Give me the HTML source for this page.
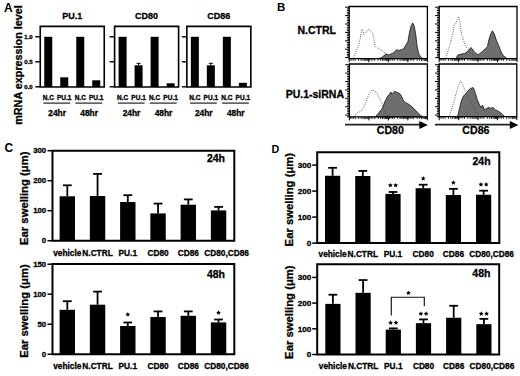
<!DOCTYPE html>
<html><head><meta charset="utf-8"><style>
html,body{margin:0;padding:0;background:#fff;}
svg{display:block;}
text{font-family:"Liberation Sans", sans-serif;fill:#000;stroke:#000;stroke-width:0.3px;}
</style></head><body>
<svg width="520" height="376" viewBox="0 0 520 376">
<rect width="520" height="376" fill="#fff"/>
<text x="4" y="12.1" font-size="12" text-anchor="start" font-weight="bold" style="stroke:none">A</text>
<text x="21.8" y="124.8" font-size="10.8" text-anchor="start" font-weight="bold" transform="rotate(-90 21.8 124.8)">mRNA expression level</text>
<rect x="44.25" y="36.8" width="8" height="50.2" fill="#000"/>
<rect x="60.25" y="77.3" width="8" height="9.7" fill="#000"/>
<rect x="76.25" y="36.8" width="8" height="50.2" fill="#000"/>
<rect x="92.25" y="80.3" width="8" height="6.7" fill="#000"/>
<path d="M40.25,26.4H104.25V87.0H40.25Z" fill="none" stroke="#000" stroke-width="1.6"/>
<line x1="35.25" y1="36.8" x2="40.25" y2="36.8" stroke="#000" stroke-width="1.4"/>
<text x="32.65" y="38.9" font-size="6.0" text-anchor="end" font-weight="bold">1.0</text>
<line x1="35.25" y1="61.8" x2="40.25" y2="61.8" stroke="#000" stroke-width="1.4"/>
<text x="32.65" y="63.9" font-size="6.0" text-anchor="end" font-weight="bold">0.5</text>
<line x1="35.25" y1="86.8" x2="40.25" y2="86.8" stroke="#000" stroke-width="1.4"/>
<text x="32.65" y="88.89999999999999" font-size="6.0" text-anchor="end" font-weight="bold">0.0</text>
<text x="72.25" y="18.8" font-size="9" text-anchor="middle" font-weight="bold">PU.1</text>
<text x="48.25" y="100" font-size="6.5" text-anchor="middle" font-weight="bold">N.C</text>
<text x="64.25" y="100" font-size="6.5" text-anchor="middle" font-weight="bold">PU.1</text>
<line x1="43.45" y1="103.1" x2="70.25" y2="103.1" stroke="#222" stroke-width="1.2"/>
<text x="57.15" y="116.0" font-size="8.4" text-anchor="middle" font-weight="bold">24hr</text>
<text x="80.25" y="100" font-size="6.5" text-anchor="middle" font-weight="bold">N.C</text>
<text x="96.25" y="100" font-size="6.5" text-anchor="middle" font-weight="bold">PU.1</text>
<line x1="75.45" y1="103.1" x2="102.25" y2="103.1" stroke="#222" stroke-width="1.2"/>
<text x="89.15" y="116.0" font-size="8.4" text-anchor="middle" font-weight="bold">48hr</text>
<rect x="118.6" y="36.8" width="8" height="50.2" fill="#000"/>
<rect x="134.6" y="65.3" width="8" height="21.7" fill="#000"/>
<line x1="138.6" y1="63.3" x2="138.6" y2="65.3" stroke="#000" stroke-width="1"/>
<line x1="136.6" y1="63.3" x2="140.6" y2="63.3" stroke="#000" stroke-width="1"/>
<rect x="150.6" y="36.8" width="8" height="50.2" fill="#000"/>
<rect x="166.6" y="83.3" width="8" height="3.7000000000000006" fill="#000"/>
<path d="M114.6,26.4H178.6V87.0H114.6Z" fill="none" stroke="#000" stroke-width="1.6"/>
<line x1="109.6" y1="36.8" x2="114.6" y2="36.8" stroke="#000" stroke-width="1.4"/>
<line x1="109.6" y1="61.8" x2="114.6" y2="61.8" stroke="#000" stroke-width="1.4"/>
<line x1="109.6" y1="86.8" x2="114.6" y2="86.8" stroke="#000" stroke-width="1.4"/>
<text x="146.6" y="18.8" font-size="9" text-anchor="middle" font-weight="bold">CD80</text>
<text x="122.6" y="100" font-size="6.5" text-anchor="middle" font-weight="bold">N.C</text>
<text x="138.6" y="100" font-size="6.5" text-anchor="middle" font-weight="bold">PU.1</text>
<line x1="117.8" y1="103.1" x2="144.6" y2="103.1" stroke="#222" stroke-width="1.2"/>
<text x="131.5" y="116.0" font-size="8.4" text-anchor="middle" font-weight="bold">24hr</text>
<text x="154.6" y="100" font-size="6.5" text-anchor="middle" font-weight="bold">N.C</text>
<text x="170.6" y="100" font-size="6.5" text-anchor="middle" font-weight="bold">PU.1</text>
<line x1="149.79999999999998" y1="103.1" x2="176.6" y2="103.1" stroke="#222" stroke-width="1.2"/>
<text x="163.5" y="116.0" font-size="8.4" text-anchor="middle" font-weight="bold">48hr</text>
<rect x="190.85" y="36.8" width="8" height="50.2" fill="#000"/>
<rect x="206.85" y="65.3" width="8" height="21.7" fill="#000"/>
<line x1="210.85" y1="63.3" x2="210.85" y2="65.3" stroke="#000" stroke-width="1"/>
<line x1="208.85" y1="63.3" x2="212.85" y2="63.3" stroke="#000" stroke-width="1"/>
<rect x="222.85" y="36.8" width="8" height="50.2" fill="#000"/>
<rect x="238.85" y="82.8" width="8" height="4.2" fill="#000"/>
<path d="M186.85,26.4H250.85V87.0H186.85Z" fill="none" stroke="#000" stroke-width="1.6"/>
<line x1="181.85" y1="36.8" x2="186.85" y2="36.8" stroke="#000" stroke-width="1.4"/>
<line x1="181.85" y1="61.8" x2="186.85" y2="61.8" stroke="#000" stroke-width="1.4"/>
<line x1="181.85" y1="86.8" x2="186.85" y2="86.8" stroke="#000" stroke-width="1.4"/>
<text x="218.85" y="18.8" font-size="9" text-anchor="middle" font-weight="bold">CD86</text>
<text x="194.85" y="100" font-size="6.5" text-anchor="middle" font-weight="bold">N.C</text>
<text x="210.85" y="100" font-size="6.5" text-anchor="middle" font-weight="bold">PU.1</text>
<line x1="190.04999999999998" y1="103.1" x2="216.85" y2="103.1" stroke="#222" stroke-width="1.2"/>
<text x="203.75" y="116.0" font-size="8.4" text-anchor="middle" font-weight="bold">24hr</text>
<text x="226.85" y="100" font-size="6.5" text-anchor="middle" font-weight="bold">N.C</text>
<text x="242.85" y="100" font-size="6.5" text-anchor="middle" font-weight="bold">PU.1</text>
<line x1="222.04999999999998" y1="103.1" x2="248.85" y2="103.1" stroke="#222" stroke-width="1.2"/>
<text x="235.75" y="116.0" font-size="8.4" text-anchor="middle" font-weight="bold">48hr</text>
<text x="277.0" y="11.0" font-size="11.5" text-anchor="start" font-weight="bold" style="stroke:none">B</text>
<text x="336" y="34.1" font-size="10.5" text-anchor="end" font-weight="bold">N.CTRL</text>
<text x="344" y="98.2" font-size="10.5" text-anchor="end" font-weight="bold">PU.1-siRNA</text>
<polygon points="378,58.6 381.3,57.7 383,56.5 386,53.8 388.3,55 390.6,54.2 393.6,52.7 396.7,49.7 398.9,50.5 401.2,49.7 403.5,48.9 405.8,45.2 408,41.4 409.5,32.3 411,26.2 412.6,22.9 414.1,25.5 415.6,33.8 417.1,45.9 418.6,53.5 420.9,57.3 423,58.6" fill="#6e6e6e" stroke="#111" stroke-width="0.8" stroke-linejoin="round"/>
<polyline points="353.3,58.3 356.4,50.5 358.6,45.5 360.2,38.3 361.7,30 362.4,29.2 364,34.5 365.5,33 367.7,30 369,28.8 370.8,31.5 373,33.8 373.8,39 375.3,46.5 377.6,48.2 380.6,49.7 383.6,52 387.4,55 392,57.5 395,58.3" fill="none" stroke="#4a4a4a" stroke-width="0.95" stroke-dasharray="0.9,1.35"/>
<path d="M349.2,6.5H427.4V58.6H349.2Z" fill="none" stroke="#000" stroke-width="1.3"/>
<path d="M349.20,58.6v3.6M368.75,58.6v3.6M388.30,58.6v3.6M407.85,58.6v3.6M427.40,58.6v3.6" stroke="#000" stroke-width="1.0" fill="none"/>
<path d="M355.09,58.6v2.3M358.53,58.6v2.3M360.97,58.6v2.3M362.86,58.6v2.3M364.41,58.6v2.3M365.72,58.6v2.3M366.86,58.6v2.3M367.86,58.6v2.3M350.18,58.6v2.0M351.74,58.6v2.0M353.31,58.6v2.0M374.64,58.6v2.3M378.08,58.6v2.3M380.52,58.6v2.3M382.41,58.6v2.3M383.96,58.6v2.3M385.27,58.6v2.3M386.41,58.6v2.3M387.41,58.6v2.3M369.73,58.6v2.0M371.29,58.6v2.0M372.86,58.6v2.0M394.19,58.6v2.3M397.63,58.6v2.3M400.07,58.6v2.3M401.96,58.6v2.3M403.51,58.6v2.3M404.82,58.6v2.3M405.96,58.6v2.3M406.96,58.6v2.3M389.28,58.6v2.0M390.84,58.6v2.0M392.41,58.6v2.0M413.74,58.6v2.3M417.18,58.6v2.3M419.62,58.6v2.3M421.51,58.6v2.3M423.06,58.6v2.3M424.37,58.6v2.3M425.51,58.6v2.3M426.51,58.6v2.3M408.83,58.6v2.0M410.39,58.6v2.0M411.96,58.6v2.0" stroke="#000" stroke-width="0.8" fill="none"/>
<path d="M349.2,7.20h-4.2M349.2,8.88h-2.3M349.2,10.56h-2.3M349.2,12.24h-2.3M349.2,13.92h-2.3M349.2,15.60h-4.2M349.2,17.28h-2.3M349.2,18.96h-2.3M349.2,20.64h-2.3M349.2,22.32h-2.3M349.2,24.00h-4.2M349.2,25.68h-2.3M349.2,27.36h-2.3M349.2,29.04h-2.3M349.2,30.72h-2.3M349.2,32.40h-4.2M349.2,34.08h-2.3M349.2,35.76h-2.3M349.2,37.44h-2.3M349.2,39.12h-2.3M349.2,40.80h-4.2M349.2,42.48h-2.3M349.2,44.16h-2.3M349.2,45.84h-2.3M349.2,47.52h-2.3M349.2,49.20h-4.2M349.2,50.88h-2.3M349.2,52.56h-2.3M349.2,54.24h-2.3M349.2,55.92h-2.3M349.2,57.60h-4.2" stroke="#000" stroke-width="1.0" fill="none"/>
<polygon points="455.7,58.6 458,55 460.3,54.3 464.8,53.5 468.6,50.5 470.9,47.4 473.8,51.2 476.1,53.5 478.3,55 480.6,52.7 482.9,51.2 485.2,48.9 487.4,46.7 488.9,39.8 490.5,34.5 492.4,30.8 494.2,33.8 496.5,40.6 498.8,45.9 501.1,52 503.3,55.8 506.4,58 507,58.6" fill="#6e6e6e" stroke="#111" stroke-width="0.8" stroke-linejoin="round"/>
<polyline points="445.9,58.3 448.1,50.5 450.4,43 452.7,34.6 454.2,24.7 455.7,24 457.2,19.4 458.5,16.4 459.5,20.2 460.3,24.7 461.5,33.8 463.3,39.9 465.6,46 468.6,50.5 472,54 476,57 480,58.3" fill="none" stroke="#4a4a4a" stroke-width="0.95" stroke-dasharray="0.9,1.35"/>
<path d="M439.2,6.5H517.0V58.6H439.2Z" fill="none" stroke="#000" stroke-width="1.3"/>
<path d="M439.20,58.6v3.6M458.65,58.6v3.6M478.10,58.6v3.6M497.55,58.6v3.6M517.00,58.6v3.6" stroke="#000" stroke-width="1.0" fill="none"/>
<path d="M445.06,58.6v2.3M448.48,58.6v2.3M450.91,58.6v2.3M452.79,58.6v2.3M454.34,58.6v2.3M455.64,58.6v2.3M456.77,58.6v2.3M457.76,58.6v2.3M440.17,58.6v2.0M441.73,58.6v2.0M443.28,58.6v2.0M464.51,58.6v2.3M467.93,58.6v2.3M470.36,58.6v2.3M472.24,58.6v2.3M473.79,58.6v2.3M475.09,58.6v2.3M476.22,58.6v2.3M477.21,58.6v2.3M459.62,58.6v2.0M461.18,58.6v2.0M462.73,58.6v2.0M483.96,58.6v2.3M487.38,58.6v2.3M489.81,58.6v2.3M491.69,58.6v2.3M493.24,58.6v2.3M494.54,58.6v2.3M495.67,58.6v2.3M496.66,58.6v2.3M479.07,58.6v2.0M480.63,58.6v2.0M482.18,58.6v2.0M503.41,58.6v2.3M506.83,58.6v2.3M509.26,58.6v2.3M511.14,58.6v2.3M512.69,58.6v2.3M513.99,58.6v2.3M515.12,58.6v2.3M516.11,58.6v2.3M498.52,58.6v2.0M500.08,58.6v2.0M501.63,58.6v2.0" stroke="#000" stroke-width="0.8" fill="none"/>
<path d="M439.2,7.20h-4.2M439.2,8.88h-2.3M439.2,10.56h-2.3M439.2,12.24h-2.3M439.2,13.92h-2.3M439.2,15.60h-4.2M439.2,17.28h-2.3M439.2,18.96h-2.3M439.2,20.64h-2.3M439.2,22.32h-2.3M439.2,24.00h-4.2M439.2,25.68h-2.3M439.2,27.36h-2.3M439.2,29.04h-2.3M439.2,30.72h-2.3M439.2,32.40h-4.2M439.2,34.08h-2.3M439.2,35.76h-2.3M439.2,37.44h-2.3M439.2,39.12h-2.3M439.2,40.80h-4.2M439.2,42.48h-2.3M439.2,44.16h-2.3M439.2,45.84h-2.3M439.2,47.52h-2.3M439.2,49.20h-4.2M439.2,50.88h-2.3M439.2,52.56h-2.3M439.2,54.24h-2.3M439.2,55.92h-2.3M439.2,57.60h-4.2" stroke="#000" stroke-width="1.0" fill="none"/>
<polygon points="375.3,116.8 379.3,112.3 382.4,108.3 384.8,101.9 387.2,97.1 389.6,93.9 390.9,92 392,94.7 393.6,92.4 394.7,91.2 396.8,92.4 398.8,93.2 400,94 401.6,96.3 403.2,100.3 405.6,102.7 408.8,104.3 412,106.7 414.3,109.1 417.5,112.3 420.7,115.5 423,116.8" fill="#6e6e6e" stroke="#111" stroke-width="0.8" stroke-linejoin="round"/>
<polyline points="354.6,116.3 357.8,112.3 361,111.5 363.4,108.3 365,104.3 367.3,97.9 369.7,93.1 372.1,89.9 374.5,90.7 376.9,93.1 379.3,97.9 381.7,102.7 383.3,108.3 385.7,113 388,116.3" fill="none" stroke="#4a4a4a" stroke-width="0.95" stroke-dasharray="0.9,1.35"/>
<path d="M349.4,64.0H427.4V116.8H349.4Z" fill="none" stroke="#000" stroke-width="1.3"/>
<path d="M349.40,116.8v3.6M368.90,116.8v3.6M388.40,116.8v3.6M407.90,116.8v3.6M427.40,116.8v3.6" stroke="#000" stroke-width="1.0" fill="none"/>
<path d="M355.27,116.8v2.3M358.70,116.8v2.3M361.14,116.8v2.3M363.03,116.8v2.3M364.57,116.8v2.3M365.88,116.8v2.3M367.01,116.8v2.3M368.01,116.8v2.3M350.38,116.8v2.0M351.94,116.8v2.0M353.50,116.8v2.0M374.77,116.8v2.3M378.20,116.8v2.3M380.64,116.8v2.3M382.53,116.8v2.3M384.07,116.8v2.3M385.38,116.8v2.3M386.51,116.8v2.3M387.51,116.8v2.3M369.88,116.8v2.0M371.44,116.8v2.0M373.00,116.8v2.0M394.27,116.8v2.3M397.70,116.8v2.3M400.14,116.8v2.3M402.03,116.8v2.3M403.57,116.8v2.3M404.88,116.8v2.3M406.01,116.8v2.3M407.01,116.8v2.3M389.38,116.8v2.0M390.93,116.8v2.0M392.50,116.8v2.0M413.77,116.8v2.3M417.20,116.8v2.3M419.64,116.8v2.3M421.53,116.8v2.3M423.07,116.8v2.3M424.38,116.8v2.3M425.51,116.8v2.3M426.51,116.8v2.3M408.88,116.8v2.0M410.43,116.8v2.0M412.00,116.8v2.0" stroke="#000" stroke-width="0.8" fill="none"/>
<path d="M349.4,64.70h-4.2M349.4,66.38h-2.3M349.4,68.06h-2.3M349.4,69.74h-2.3M349.4,71.42h-2.3M349.4,73.10h-4.2M349.4,74.78h-2.3M349.4,76.46h-2.3M349.4,78.14h-2.3M349.4,79.82h-2.3M349.4,81.50h-4.2M349.4,83.18h-2.3M349.4,84.86h-2.3M349.4,86.54h-2.3M349.4,88.22h-2.3M349.4,89.90h-4.2M349.4,91.58h-2.3M349.4,93.26h-2.3M349.4,94.94h-2.3M349.4,96.62h-2.3M349.4,98.30h-4.2M349.4,99.98h-2.3M349.4,101.66h-2.3M349.4,103.34h-2.3M349.4,105.02h-2.3M349.4,106.70h-4.2M349.4,108.38h-2.3M349.4,110.06h-2.3M349.4,111.74h-2.3M349.4,113.42h-2.3M349.4,115.10h-4.2M349.4,116.78h-2.3" stroke="#000" stroke-width="1.0" fill="none"/>
<polygon points="457.5,116.6 459.9,106.7 461.5,100.3 463.9,95.5 465.5,93.9 467.1,92.3 468.7,89.9 471.1,88.3 473,87.5 474,89.2 475.6,94 477.2,99.5 479.6,105.1 481.2,107.5 482.5,105.1 484.4,109.9 486.8,108.3 489.2,107.5 490.8,108.3 493.2,107.5 495.6,109.9 498.8,111.5 502,113.9 504.3,116.3 505,116.6" fill="#6e6e6e" stroke="#111" stroke-width="0.8" stroke-linejoin="round"/>
<polyline points="449.6,115.4 452,108.3 454.3,100.3 456.7,91.5 458.3,85.9 459.9,81.9 461,80.8 462.3,84.3 463.9,87.5 465.5,91.5 468,97 470.5,102 473,106 476,111 478,115 479,116.4" fill="none" stroke="#4a4a4a" stroke-width="0.95" stroke-dasharray="0.9,1.35"/>
<path d="M439.2,64.0H516.8V116.6H439.2Z" fill="none" stroke="#000" stroke-width="1.3"/>
<path d="M439.20,116.6v3.6M458.60,116.6v3.6M478.00,116.6v3.6M497.40,116.6v3.6M516.80,116.6v3.6" stroke="#000" stroke-width="1.0" fill="none"/>
<path d="M445.04,116.6v2.3M448.46,116.6v2.3M450.88,116.6v2.3M452.76,116.6v2.3M454.30,116.6v2.3M455.59,116.6v2.3M456.72,116.6v2.3M457.71,116.6v2.3M440.17,116.6v2.0M441.72,116.6v2.0M443.27,116.6v2.0M464.44,116.6v2.3M467.86,116.6v2.3M470.28,116.6v2.3M472.16,116.6v2.3M473.70,116.6v2.3M474.99,116.6v2.3M476.12,116.6v2.3M477.11,116.6v2.3M459.57,116.6v2.0M461.12,116.6v2.0M462.67,116.6v2.0M483.84,116.6v2.3M487.26,116.6v2.3M489.68,116.6v2.3M491.56,116.6v2.3M493.10,116.6v2.3M494.39,116.6v2.3M495.52,116.6v2.3M496.51,116.6v2.3M478.97,116.6v2.0M480.52,116.6v2.0M482.07,116.6v2.0M503.24,116.6v2.3M506.66,116.6v2.3M509.08,116.6v2.3M510.96,116.6v2.3M512.50,116.6v2.3M513.79,116.6v2.3M514.92,116.6v2.3M515.91,116.6v2.3M498.37,116.6v2.0M499.92,116.6v2.0M501.47,116.6v2.0" stroke="#000" stroke-width="0.8" fill="none"/>
<path d="M439.2,64.70h-4.2M439.2,66.38h-2.3M439.2,68.06h-2.3M439.2,69.74h-2.3M439.2,71.42h-2.3M439.2,73.10h-4.2M439.2,74.78h-2.3M439.2,76.46h-2.3M439.2,78.14h-2.3M439.2,79.82h-2.3M439.2,81.50h-4.2M439.2,83.18h-2.3M439.2,84.86h-2.3M439.2,86.54h-2.3M439.2,88.22h-2.3M439.2,89.90h-4.2M439.2,91.58h-2.3M439.2,93.26h-2.3M439.2,94.94h-2.3M439.2,96.62h-2.3M439.2,98.30h-4.2M439.2,99.98h-2.3M439.2,101.66h-2.3M439.2,103.34h-2.3M439.2,105.02h-2.3M439.2,106.70h-4.2M439.2,108.38h-2.3M439.2,110.06h-2.3M439.2,111.74h-2.3M439.2,113.42h-2.3M439.2,115.10h-4.2M439.2,116.78h-2.3" stroke="#000" stroke-width="1.0" fill="none"/>
<line x1="345" y1="124.6" x2="420.8" y2="124.6" stroke="#222" stroke-width="1.6"/>
<path d="M419.3,120.9L427.8,124.9L419.3,128.9Z" fill="#000"/>
<line x1="434.9" y1="124.6" x2="511.29999999999995" y2="124.6" stroke="#222" stroke-width="1.6"/>
<path d="M509.79999999999995,120.9L518.3,124.9L509.79999999999995,128.9Z" fill="#000"/>
<text x="390.3" y="134.2" font-size="10.6" text-anchor="middle" font-weight="bold">CD80</text>
<text x="475.9" y="134.3" font-size="10.6" text-anchor="middle" font-weight="bold">CD86</text>
<text x="4.6" y="151.8" font-size="12" text-anchor="start" font-weight="bold" style="stroke:none">C</text>
<text x="271.6" y="152.6" font-size="10.8" text-anchor="start" font-weight="bold" style="stroke:none">D</text>
<rect x="59.6" y="196.29999999999998" width="15.4" height="44.400000000000006" fill="#000"/>
<line x1="67.3" y1="185.2" x2="67.3" y2="196.29999999999998" stroke="#000" stroke-width="1.8"/>
<line x1="62.9" y1="185.29999999999998" x2="71.7" y2="185.29999999999998" stroke="#000" stroke-width="1.8"/>
<rect x="89.85" y="196.0" width="15.4" height="44.69999999999999" fill="#000"/>
<line x1="97.55" y1="173.8" x2="97.55" y2="196.0" stroke="#000" stroke-width="1.8"/>
<line x1="93.14999999999999" y1="173.9" x2="101.95" y2="173.9" stroke="#000" stroke-width="1.8"/>
<rect x="120.1" y="202.0" width="15.4" height="38.69999999999999" fill="#000"/>
<line x1="127.8" y1="195.1" x2="127.8" y2="202.0" stroke="#000" stroke-width="1.8"/>
<line x1="123.39999999999999" y1="195.2" x2="132.2" y2="195.2" stroke="#000" stroke-width="1.8"/>
<rect x="150.35" y="213.39999999999998" width="15.4" height="27.30000000000001" fill="#000"/>
<line x1="158.04999999999998" y1="203.5" x2="158.04999999999998" y2="213.39999999999998" stroke="#000" stroke-width="1.8"/>
<line x1="153.64999999999998" y1="203.6" x2="162.45" y2="203.6" stroke="#000" stroke-width="1.8"/>
<rect x="180.6" y="204.7" width="15.4" height="36.0" fill="#000"/>
<line x1="188.29999999999998" y1="199.29999999999998" x2="188.29999999999998" y2="204.7" stroke="#000" stroke-width="1.8"/>
<line x1="183.89999999999998" y1="199.39999999999998" x2="192.7" y2="199.39999999999998" stroke="#000" stroke-width="1.8"/>
<rect x="210.85" y="210.39999999999998" width="15.4" height="30.30000000000001" fill="#000"/>
<line x1="218.54999999999998" y1="206.79999999999998" x2="218.54999999999998" y2="210.39999999999998" stroke="#000" stroke-width="1.8"/>
<line x1="214.14999999999998" y1="206.89999999999998" x2="222.95" y2="206.89999999999998" stroke="#000" stroke-width="1.8"/>
<path d="M52.5,150.7H234.3V240.7H52.5Z" fill="none" stroke="#000" stroke-width="2"/>
<line x1="47.5" y1="240.7" x2="52.5" y2="240.7" stroke="#000" stroke-width="1.5"/>
<text x="46.2" y="243.49239999999998" font-size="7.8" text-anchor="end" font-weight="bold">0</text>
<line x1="47.5" y1="210.7" x2="52.5" y2="210.7" stroke="#000" stroke-width="1.5"/>
<text x="46.2" y="213.49239999999998" font-size="7.8" text-anchor="end" font-weight="bold">100</text>
<line x1="47.5" y1="180.7" x2="52.5" y2="180.7" stroke="#000" stroke-width="1.5"/>
<text x="46.2" y="183.49239999999998" font-size="7.8" text-anchor="end" font-weight="bold">200</text>
<line x1="47.5" y1="150.7" x2="52.5" y2="150.7" stroke="#000" stroke-width="1.5"/>
<text x="46.2" y="153.49239999999998" font-size="7.8" text-anchor="end" font-weight="bold">300</text>
<text x="67.3" y="255.7" font-size="8.3" text-anchor="middle" font-weight="bold">vehicle</text>
<text x="97.55" y="255.7" font-size="8.3" text-anchor="middle" font-weight="bold">N.CTRL</text>
<text x="127.8" y="255.7" font-size="8.3" text-anchor="middle" font-weight="bold">PU.1</text>
<text x="158.04999999999998" y="255.7" font-size="8.3" text-anchor="middle" font-weight="bold">CD80</text>
<text x="188.29999999999998" y="255.7" font-size="8.3" text-anchor="middle" font-weight="bold">CD86</text>
<text x="226.54999999999998" y="255.7" font-size="8.3" text-anchor="middle" font-weight="bold">CD80,CD86</text>
<text x="206.9" y="162.4" font-size="10.5" text-anchor="start" font-weight="bold">24h</text>
<rect x="59.6" y="309.8" width="15.4" height="44.39999999999998" fill="#000"/>
<line x1="67.3" y1="301.09999999999997" x2="67.3" y2="309.8" stroke="#000" stroke-width="1.8"/>
<line x1="62.9" y1="301.2" x2="71.7" y2="301.2" stroke="#000" stroke-width="1.8"/>
<rect x="89.85" y="304.7" width="15.4" height="49.5" fill="#000"/>
<line x1="97.55" y1="291.5" x2="97.55" y2="304.7" stroke="#000" stroke-width="1.8"/>
<line x1="93.14999999999999" y1="291.6" x2="101.95" y2="291.6" stroke="#000" stroke-width="1.8"/>
<rect x="120.1" y="326.0" width="15.4" height="28.19999999999999" fill="#000"/>
<line x1="127.8" y1="322.4" x2="127.8" y2="326.0" stroke="#000" stroke-width="1.8"/>
<line x1="123.39999999999999" y1="322.5" x2="132.2" y2="322.5" stroke="#000" stroke-width="1.8"/>
<rect x="150.35" y="317.0" width="15.4" height="37.19999999999999" fill="#000"/>
<line x1="158.04999999999998" y1="311.3" x2="158.04999999999998" y2="317.0" stroke="#000" stroke-width="1.8"/>
<line x1="153.64999999999998" y1="311.40000000000003" x2="162.45" y2="311.40000000000003" stroke="#000" stroke-width="1.8"/>
<rect x="180.6" y="315.8" width="15.4" height="38.39999999999998" fill="#000"/>
<line x1="188.29999999999998" y1="311.3" x2="188.29999999999998" y2="315.8" stroke="#000" stroke-width="1.8"/>
<line x1="183.89999999999998" y1="311.40000000000003" x2="192.7" y2="311.40000000000003" stroke="#000" stroke-width="1.8"/>
<rect x="210.85" y="322.4" width="15.4" height="31.80000000000001" fill="#000"/>
<line x1="218.54999999999998" y1="319.4" x2="218.54999999999998" y2="322.4" stroke="#000" stroke-width="1.8"/>
<line x1="214.14999999999998" y1="319.5" x2="222.95" y2="319.5" stroke="#000" stroke-width="1.8"/>
<path d="M52.5,264.0H234.3V354.2H52.5Z" fill="none" stroke="#000" stroke-width="2"/>
<line x1="47.5" y1="354.2" x2="52.5" y2="354.2" stroke="#000" stroke-width="1.5"/>
<text x="46.2" y="356.9924" font-size="7.8" text-anchor="end" font-weight="bold">0</text>
<line x1="47.5" y1="324.2" x2="52.5" y2="324.2" stroke="#000" stroke-width="1.5"/>
<text x="46.2" y="326.9924" font-size="7.8" text-anchor="end" font-weight="bold">50</text>
<line x1="47.5" y1="294.2" x2="52.5" y2="294.2" stroke="#000" stroke-width="1.5"/>
<text x="46.2" y="296.9924" font-size="7.8" text-anchor="end" font-weight="bold">100</text>
<line x1="47.5" y1="264.2" x2="52.5" y2="264.2" stroke="#000" stroke-width="1.5"/>
<text x="46.2" y="266.9924" font-size="7.8" text-anchor="end" font-weight="bold">150</text>
<text x="67.3" y="368.8" font-size="8.3" text-anchor="middle" font-weight="bold">vehicle</text>
<text x="97.55" y="368.8" font-size="8.3" text-anchor="middle" font-weight="bold">N.CTRL</text>
<text x="127.8" y="368.8" font-size="8.3" text-anchor="middle" font-weight="bold">PU.1</text>
<text x="158.04999999999998" y="368.8" font-size="8.3" text-anchor="middle" font-weight="bold">CD80</text>
<text x="188.29999999999998" y="368.8" font-size="8.3" text-anchor="middle" font-weight="bold">CD86</text>
<text x="226.54999999999998" y="368.8" font-size="8.3" text-anchor="middle" font-weight="bold">CD80,CD86</text>
<text x="206.9" y="277.5" font-size="10.5" text-anchor="start" font-weight="bold">48h</text>
<polygon points="127.80,312.10 128.52,313.56 130.13,313.79 128.97,314.93 129.24,316.53 127.80,315.78 126.36,316.53 126.63,314.93 125.47,313.79 127.08,313.56" fill="#000"/>
<polygon points="218.55,310.30 219.27,311.76 220.88,311.99 219.72,313.13 219.99,314.73 218.55,313.98 217.11,314.73 217.38,313.13 216.22,311.99 217.83,311.76" fill="#000"/>
<rect x="325.0" y="175.76" width="15.2" height="67.34" fill="#000"/>
<line x1="332.6" y1="167.7" x2="332.6" y2="175.76" stroke="#000" stroke-width="1.8"/>
<line x1="328.20000000000005" y1="167.79999999999998" x2="337.0" y2="167.79999999999998" stroke="#000" stroke-width="1.8"/>
<rect x="355.2" y="176.01999999999998" width="15.2" height="67.08000000000001" fill="#000"/>
<line x1="362.8" y1="170.82" x2="362.8" y2="176.01999999999998" stroke="#000" stroke-width="1.8"/>
<line x1="358.40000000000003" y1="170.92" x2="367.2" y2="170.92" stroke="#000" stroke-width="1.8"/>
<rect x="385.4" y="193.95999999999998" width="15.2" height="49.140000000000015" fill="#000"/>
<line x1="393.0" y1="191.88" x2="393.0" y2="193.95999999999998" stroke="#000" stroke-width="1.8"/>
<line x1="388.6" y1="191.98" x2="397.4" y2="191.98" stroke="#000" stroke-width="1.8"/>
<rect x="415.6" y="188.24" width="15.2" height="54.859999999999985" fill="#000"/>
<line x1="423.20000000000005" y1="184.6" x2="423.20000000000005" y2="188.24" stroke="#000" stroke-width="1.8"/>
<line x1="418.80000000000007" y1="184.7" x2="427.6" y2="184.7" stroke="#000" stroke-width="1.8"/>
<rect x="445.8" y="195.0" width="15.2" height="48.099999999999994" fill="#000"/>
<line x1="453.40000000000003" y1="188.76" x2="453.40000000000003" y2="195.0" stroke="#000" stroke-width="1.8"/>
<line x1="449.00000000000006" y1="188.85999999999999" x2="457.8" y2="188.85999999999999" stroke="#000" stroke-width="1.8"/>
<rect x="476.0" y="194.74" width="15.2" height="48.359999999999985" fill="#000"/>
<line x1="483.6" y1="190.57999999999998" x2="483.6" y2="194.74" stroke="#000" stroke-width="1.8"/>
<line x1="479.20000000000005" y1="190.67999999999998" x2="488.0" y2="190.67999999999998" stroke="#000" stroke-width="1.8"/>
<path d="M317.2,152.2H499.3V243.1H317.2Z" fill="none" stroke="#000" stroke-width="2"/>
<line x1="312.2" y1="243.1" x2="317.2" y2="243.1" stroke="#000" stroke-width="1.5"/>
<text x="311.3" y="245.9998" font-size="8.1" text-anchor="end" font-weight="bold">0</text>
<line x1="312.2" y1="217.1" x2="317.2" y2="217.1" stroke="#000" stroke-width="1.5"/>
<text x="311.3" y="219.9998" font-size="8.1" text-anchor="end" font-weight="bold">100</text>
<line x1="312.2" y1="191.1" x2="317.2" y2="191.1" stroke="#000" stroke-width="1.5"/>
<text x="311.3" y="193.9998" font-size="8.1" text-anchor="end" font-weight="bold">200</text>
<line x1="312.2" y1="165.1" x2="317.2" y2="165.1" stroke="#000" stroke-width="1.5"/>
<text x="311.3" y="167.9998" font-size="8.1" text-anchor="end" font-weight="bold">300</text>
<text x="332.6" y="256.8" font-size="8.3" text-anchor="middle" font-weight="bold">vehicle</text>
<text x="362.8" y="256.8" font-size="8.3" text-anchor="middle" font-weight="bold">N.CTRL</text>
<text x="393.0" y="256.8" font-size="8.3" text-anchor="middle" font-weight="bold">PU.1</text>
<text x="423.20000000000005" y="256.8" font-size="8.3" text-anchor="middle" font-weight="bold">CD80</text>
<text x="453.40000000000003" y="256.8" font-size="8.3" text-anchor="middle" font-weight="bold">CD86</text>
<text x="491.6" y="256.8" font-size="8.3" text-anchor="middle" font-weight="bold">CD80,CD86</text>
<text x="472.5" y="164.9" font-size="10.5" text-anchor="start" font-weight="bold">24h</text>
<polygon points="390.35,182.90 391.07,184.36 392.68,184.59 391.52,185.73 391.79,187.33 390.35,186.57 388.91,187.33 389.18,185.73 388.02,184.59 389.63,184.36" fill="#000"/>
<polygon points="395.65,182.90 396.37,184.36 397.98,184.59 396.82,185.73 397.09,187.33 395.65,186.57 394.21,187.33 394.48,185.73 393.32,184.59 394.93,184.36" fill="#000"/>
<polygon points="423.20,176.00 423.92,177.46 425.53,177.69 424.37,178.83 424.64,180.43 423.20,179.67 421.76,180.43 422.03,178.83 420.87,177.69 422.48,177.46" fill="#000"/>
<polygon points="453.40,180.20 454.12,181.66 455.73,181.89 454.57,183.03 454.84,184.63 453.40,183.87 451.96,184.63 452.23,183.03 451.07,181.89 452.68,181.66" fill="#000"/>
<polygon points="480.95,182.10 481.67,183.56 483.28,183.79 482.12,184.93 482.39,186.53 480.95,185.77 479.51,186.53 479.78,184.93 478.62,183.79 480.23,183.56" fill="#000"/>
<polygon points="486.25,182.10 486.97,183.56 488.58,183.79 487.42,184.93 487.69,186.53 486.25,185.77 484.81,186.53 485.08,184.93 483.92,183.79 485.53,183.56" fill="#000"/>
<rect x="325.3" y="303.871" width="15.2" height="50.62900000000002" fill="#000"/>
<line x1="332.90000000000003" y1="294.619" x2="332.90000000000003" y2="303.871" stroke="#000" stroke-width="1.8"/>
<line x1="328.50000000000006" y1="294.71900000000005" x2="337.3" y2="294.71900000000005" stroke="#000" stroke-width="1.8"/>
<rect x="355.5" y="292.82" width="15.2" height="61.68000000000001" fill="#000"/>
<line x1="363.1" y1="279.97" x2="363.1" y2="292.82" stroke="#000" stroke-width="1.8"/>
<line x1="358.70000000000005" y1="280.07000000000005" x2="367.5" y2="280.07000000000005" stroke="#000" stroke-width="1.8"/>
<rect x="385.7" y="329.571" width="15.2" height="24.928999999999974" fill="#000"/>
<line x1="393.3" y1="328.286" x2="393.3" y2="329.571" stroke="#000" stroke-width="1.8"/>
<line x1="388.90000000000003" y1="328.386" x2="397.7" y2="328.386" stroke="#000" stroke-width="1.8"/>
<rect x="415.9" y="323.146" width="15.2" height="31.353999999999985" fill="#000"/>
<line x1="423.5" y1="319.291" x2="423.5" y2="323.146" stroke="#000" stroke-width="1.8"/>
<line x1="419.1" y1="319.391" x2="427.9" y2="319.391" stroke="#000" stroke-width="1.8"/>
<rect x="446.1" y="317.749" width="15.2" height="36.750999999999976" fill="#000"/>
<line x1="453.70000000000005" y1="305.67" x2="453.70000000000005" y2="317.749" stroke="#000" stroke-width="1.8"/>
<line x1="449.30000000000007" y1="305.77000000000004" x2="458.1" y2="305.77000000000004" stroke="#000" stroke-width="1.8"/>
<rect x="476.3" y="324.174" width="15.2" height="30.326000000000022" fill="#000"/>
<line x1="483.90000000000003" y1="318.777" x2="483.90000000000003" y2="324.174" stroke="#000" stroke-width="1.8"/>
<line x1="479.50000000000006" y1="318.877" x2="488.3" y2="318.877" stroke="#000" stroke-width="1.8"/>
<path d="M317.2,264.3H499.2V354.5H317.2Z" fill="none" stroke="#000" stroke-width="2"/>
<line x1="312.2" y1="354.5" x2="317.2" y2="354.5" stroke="#000" stroke-width="1.5"/>
<text x="311.3" y="357.3998" font-size="8.1" text-anchor="end" font-weight="bold">0</text>
<line x1="312.2" y1="328.8" x2="317.2" y2="328.8" stroke="#000" stroke-width="1.5"/>
<text x="311.3" y="331.69980000000004" font-size="8.1" text-anchor="end" font-weight="bold">100</text>
<line x1="312.2" y1="303.1" x2="317.2" y2="303.1" stroke="#000" stroke-width="1.5"/>
<text x="311.3" y="305.99980000000005" font-size="8.1" text-anchor="end" font-weight="bold">200</text>
<line x1="312.2" y1="277.4" x2="317.2" y2="277.4" stroke="#000" stroke-width="1.5"/>
<text x="311.3" y="280.2998" font-size="8.1" text-anchor="end" font-weight="bold">300</text>
<text x="332.90000000000003" y="368.6" font-size="8.3" text-anchor="middle" font-weight="bold">vehicle</text>
<text x="363.1" y="368.6" font-size="8.3" text-anchor="middle" font-weight="bold">N.CTRL</text>
<text x="393.3" y="368.6" font-size="8.3" text-anchor="middle" font-weight="bold">PU.1</text>
<text x="423.5" y="368.6" font-size="8.3" text-anchor="middle" font-weight="bold">CD80</text>
<text x="453.70000000000005" y="368.6" font-size="8.3" text-anchor="middle" font-weight="bold">CD86</text>
<text x="491.90000000000003" y="368.6" font-size="8.3" text-anchor="middle" font-weight="bold">CD80,CD86</text>
<text x="472.3" y="276.9" font-size="10.5" text-anchor="start" font-weight="bold">48h</text>
<polygon points="390.65,320.30 391.37,321.76 392.98,321.99 391.82,323.13 392.09,324.73 390.65,323.98 389.21,324.73 389.48,323.13 388.32,321.99 389.93,321.76" fill="#000"/>
<polygon points="395.95,320.30 396.67,321.76 398.28,321.99 397.12,323.13 397.39,324.73 395.95,323.98 394.51,324.73 394.78,323.13 393.62,321.99 395.23,321.76" fill="#000"/>
<polygon points="420.85,311.30 421.57,312.76 423.18,312.99 422.02,314.13 422.29,315.73 420.85,314.98 419.41,315.73 419.68,314.13 418.52,312.99 420.13,312.76" fill="#000"/>
<polygon points="426.15,311.30 426.87,312.76 428.48,312.99 427.32,314.13 427.59,315.73 426.15,314.98 424.71,315.73 424.98,314.13 423.82,312.99 425.43,312.76" fill="#000"/>
<polygon points="481.25,311.30 481.97,312.76 483.58,312.99 482.42,314.13 482.69,315.73 481.25,314.98 479.81,315.73 480.08,314.13 478.92,312.99 480.53,312.76" fill="#000"/>
<polygon points="486.55,311.30 487.27,312.76 488.88,312.99 487.72,314.13 487.99,315.73 486.55,314.98 485.11,315.73 485.38,314.13 484.22,312.99 485.83,312.76" fill="#000"/>
<path d="M391.3,315.6V297.2H424.3V306.3" fill="none" stroke="#111" stroke-width="1.15" stroke-linejoin="miter"/>
<polygon points="408.50,290.60 409.22,292.06 410.83,292.29 409.67,293.43 409.94,295.03 408.50,294.28 407.06,295.03 407.33,293.43 406.17,292.29 407.78,292.06" fill="#000"/>
<text x="27.6" y="245" font-size="11.3" text-anchor="start" font-weight="bold" transform="rotate(-90 27.6 245)">Ear swelling (μm)</text>
<text x="27.6" y="357.8" font-size="11.3" text-anchor="start" font-weight="bold" transform="rotate(-90 27.6 357.8)">Ear swelling (μm)</text>
<text x="292.6" y="246.4" font-size="11.3" text-anchor="start" font-weight="bold" transform="rotate(-90 292.6 246.4)">Ear swelling (μm)</text>
<text x="292.6" y="358.9" font-size="11.3" text-anchor="start" font-weight="bold" transform="rotate(-90 292.6 358.9)">Ear swelling (μm)</text>
</svg></body></html>
